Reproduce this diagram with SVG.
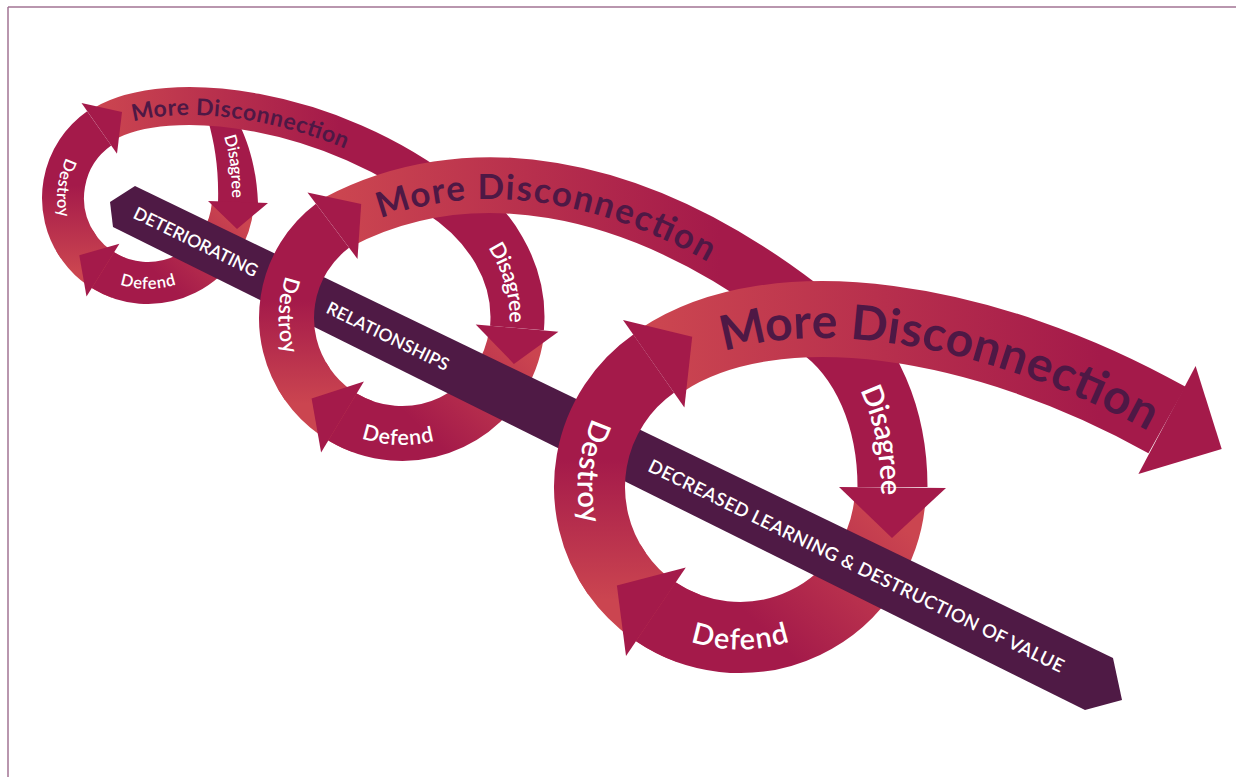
<svg xmlns="http://www.w3.org/2000/svg" width="1236" height="777" viewBox="0 0 1236 777">
<defs>
<style>
.w{font-family:Lato,'Open Sans','Liberation Sans',sans-serif;font-weight:600;fill:#ffffff}
.m{font-family:Lato,'Open Sans','Liberation Sans',sans-serif;font-weight:700;fill:#4E1845}
.bt{font-family:Lato,'Open Sans','Liberation Sans',sans-serif;font-weight:600;fill:#ffffff}
.r{fill:none}
.c{fill:#A41A4A}
.cs{stroke:#A41A4A;fill:none}
</style>
<linearGradient id="gDes1" gradientUnits="userSpaceOnUse" x1="0" y1="272" x2="0" y2="185"><stop offset="0" stop-color="#CB4550"/><stop offset="1" stop-color="#A41A4A"/></linearGradient>
<linearGradient id="gDes2" gradientUnits="userSpaceOnUse" x1="0" y1="404" x2="0" y2="300"><stop offset="0" stop-color="#CB4550"/><stop offset="1" stop-color="#A41A4A"/></linearGradient>
<linearGradient id="gDes3" gradientUnits="userSpaceOnUse" x1="0" y1="600" x2="0" y2="460"><stop offset="0" stop-color="#CB4550"/><stop offset="1" stop-color="#A41A4A"/></linearGradient>
<linearGradient id="gDef1" gradientUnits="userSpaceOnUse" x1="232" y1="213" x2="165" y2="282"><stop offset="0" stop-color="#CB4550"/><stop offset="1" stop-color="#A41A4A"/></linearGradient>
<linearGradient id="gDef2" gradientUnits="userSpaceOnUse" x1="516" y1="338" x2="425" y2="432"><stop offset="0" stop-color="#CB4550"/><stop offset="1" stop-color="#A41A4A"/></linearGradient>
<linearGradient id="gDef3" gradientUnits="userSpaceOnUse" x1="888" y1="513" x2="770" y2="636"><stop offset="0" stop-color="#CB4550"/><stop offset="1" stop-color="#A41A4A"/></linearGradient>
<linearGradient id="gBand1" gradientUnits="userSpaceOnUse" x1="100" y1="0" x2="340" y2="0"><stop offset="0" stop-color="#CB4550"/><stop offset="1" stop-color="#A41A4A"/></linearGradient>
<linearGradient id="gBand2" gradientUnits="userSpaceOnUse" x1="340" y1="0" x2="720" y2="0"><stop offset="0" stop-color="#CB4550"/><stop offset="1" stop-color="#A41A4A"/></linearGradient>
<linearGradient id="gBand3" gradientUnits="userSpaceOnUse" x1="660" y1="0" x2="1100" y2="0"><stop offset="0" stop-color="#CB4550"/><stop offset="1" stop-color="#A41A4A"/></linearGradient>
<path id="pBand1" d="M 104 124 C 166.6 87, 330 105, 450 200"/>
<path id="pBand2" d="M 338 222 C 460 158, 630 170, 815 318"/>
<path id="pBand3" d="M 662 360 C 775 285, 985 318, 1167 420"/>
<path id="pL1Des" d="M 114.8 119.8 A 85 85 0 0 0 96.8 265.9"/>
<path id="pL1Dis" d="M 217 110 C 236 138, 238 168, 238 203 L 238 235"/>
<path id="pL1Def" d="M 82.9 252.6 A 85 85 0 0 0 213.1 252.6"/>
<path id="pL2Des" d="M 355.9 212.1 A 115.5 115.5 0 0 0 350.5 421.4"/>
<path id="pL2Dis" d="M 440 190 C 490 222, 521.8 273, 517 328 L 513.5 368"/>
<path id="pL2Def" d="M 308.2 391.3 A 119 119 0 0 0 490.4 397.6"/>
<path id="pL3Des" d="M 691 344.7 A 150.5 150.5 0 0 0 662.5 616"/>
<path id="pL3Dis" d="M 818 322 C 868 356, 892.5 420, 892.5 487 L 892.5 540"/>
<path id="pL3Def" d="M 624.7 583.7 A 150.5 150.5 0 0 0 855.3 583.7"/>
</defs>

<g id="frame"><path d="M 8 7 H 1236 M 8 7 V 777" fill="none" stroke="#A27494" stroke-width="1.5"/></g>

<g id="connectors">
<g id="ring-lower">
<path d="M 118.9 277.9 A 85 85 0 0 1 74.4 240.5" class="r" stroke="url(#gDes1)" stroke-width="42"/>
<path d="M 362.5 426.5 A 115.5 115.5 0 0 1 302 375.75" class="r" stroke="url(#gDes2)" stroke-width="55"/>
<path d="M 688.5 628.4 A 150.5 150.5 0 0 1 609.7 562.25" class="r" stroke="url(#gDes3)" stroke-width="71"/>
<path d="M 232.7 205.4 A 85 85 0 0 1 103 270.1" class="r" stroke="url(#gDef1)" stroke-width="42"/>
<path d="M 516.4 334.1 A 115.5 115.5 0 0 1 342.5 417" class="r" stroke="url(#gDef2)" stroke-width="55"/>
<path d="M 889.9 500.1 A 150.5 150.5 0 0 1 655.8 611.8" class="r" stroke="url(#gDef3)" stroke-width="71"/>
<polygon class="c" points="119.4,243.8 86.5,296.4 79.3,255.2"/>
<polygon class="c" points="363.9,381.4 321.1,452.6 311.6,398.5"/>
<polygon class="c" points="685.8,567.4 626,656.1 616.9,585.5"/>
<path class="c" d="M 204 100 L 226 100 C 238 120, 256 150, 258 203 L 218 203 C 219 170, 215 145, 208 120 Z"/>
<path class="cs" d="M 440 190 C 490 222, 521.8 273, 517 328" stroke-width="54"/>
<path class="cs" d="M 818 322 C 868 356, 892.5 420, 892.5 487" stroke-width="70"/>
<polygon class="c" points="208,201 268,203 237,229"/>
<polygon class="c" points="475.7,324.4 558.4,331.7 513.9,363.9"/>
<polygon class="c" points="839,487 946,488 892,538"/>
</g>
<g id="band-1">
<use href="#pBand1" class="r" stroke="url(#gBand1)" stroke-width="38"/>
<text class="m" font-size="23" dominant-baseline="central"><textPath href="#pBand1" startOffset="30" textLength="222" lengthAdjust="spacing">More Disconnection</textPath></text>
</g>
<g id="band-2">
<use href="#pBand2" class="r" stroke="url(#gBand2)" stroke-width="56"/>
<text class="m" font-size="35" dominant-baseline="central"><textPath href="#pBand2" startOffset="42" textLength="352" lengthAdjust="spacing">More Disconnection</textPath></text>
</g>
<g id="band-3">
<use href="#pBand3" class="r" stroke="url(#gBand3)" stroke-width="76"/>
<polygon class="c" points="1195.6,366 1221.7,449 1138.4,474"/>
<text class="m" font-size="48" dominant-baseline="central"><textPath href="#pBand3" startOffset="64" textLength="455" lengthAdjust="spacing">More Disconnection</textPath></text>
</g>
</g>

<g id="bar">
<polygon fill="#4F1A45" points="135,186 1113,658 1122,700 1085,710 113,227 110,202"/>
<text class="bt" font-size="17.5" text-anchor="middle" dominant-baseline="central" textLength="136" lengthAdjust="spacing" transform="translate(196,241.5) rotate(26.1)">DETERIORATING</text>
<text class="bt" font-size="17.5" text-anchor="middle" dominant-baseline="central" textLength="134" lengthAdjust="spacing" transform="translate(388,336) rotate(26.1)">RELATIONSHIPS</text>
<text class="bt" font-size="18.5" text-anchor="middle" dominant-baseline="central" textLength="460" lengthAdjust="spacing" transform="translate(856.5,565.4) rotate(26.1)">DECREASED LEARNING &amp; DESTRUCTION OF VALUE</text>
</g>

<g id="loop-1">
<path d="M 78.4 246.8 A 85 85 0 0 1 99.2 128.4" class="r" stroke="url(#gDes1)" stroke-width="42"/>
<polygon class="c" points="81.5,103 117,153.8 122,112"/>
<text class="w" font-size="16.5" text-anchor="middle" dominant-baseline="central"><textPath href="#pL1Des" startOffset="50%">Destroy</textPath></text>
<text class="w" font-size="16.5" text-anchor="middle" dominant-baseline="central"><textPath href="#pL1Dis" startOffset="60">Disagree</textPath></text>
<text class="w" font-size="16.5" text-anchor="middle" dominant-baseline="central"><textPath href="#pL1Def" startOffset="50%">Defend</textPath></text>
</g>
<g id="loop-2">
<path d="M 307.4 384.3 A 115.5 115.5 0 0 1 332.5 225.8" class="r" stroke="url(#gDes2)" stroke-width="55"/>
<polygon class="c" points="357.5,258.9 307.5,192.6 361.2,204.1"/>
<text class="w" font-size="21.5" text-anchor="middle" dominant-baseline="central"><textPath href="#pL2Des" startOffset="50%">Destroy</textPath></text>
<text class="w" font-size="21.5" text-anchor="middle" dominant-baseline="central"><textPath href="#pL2Dis" startOffset="119">Disagree</textPath></text>
<text class="w" font-size="21.5" text-anchor="middle" dominant-baseline="central"><textPath href="#pL2Def" startOffset="50%">Defend</textPath></text>
</g>
<g id="loop-3">
<path d="M 616.7 573.3 A 150.5 150.5 0 0 1 653.7 363.7" class="r" stroke="url(#gDes3)" stroke-width="71"/>
<polygon class="c" points="684.4,407.5 623,319.9 692.2,336.7"/>
<text class="w" font-size="29" text-anchor="middle" dominant-baseline="central"><textPath href="#pL3Des" startOffset="50%">Destroy</textPath></text>
<text class="w" font-size="29" text-anchor="middle" dominant-baseline="central"><textPath href="#pL3Dis" startOffset="140">Disagree</textPath></text>
<text class="w" font-size="29" text-anchor="middle" dominant-baseline="central"><textPath href="#pL3Def" startOffset="50%">Defend</textPath></text>
</g>
</svg>
